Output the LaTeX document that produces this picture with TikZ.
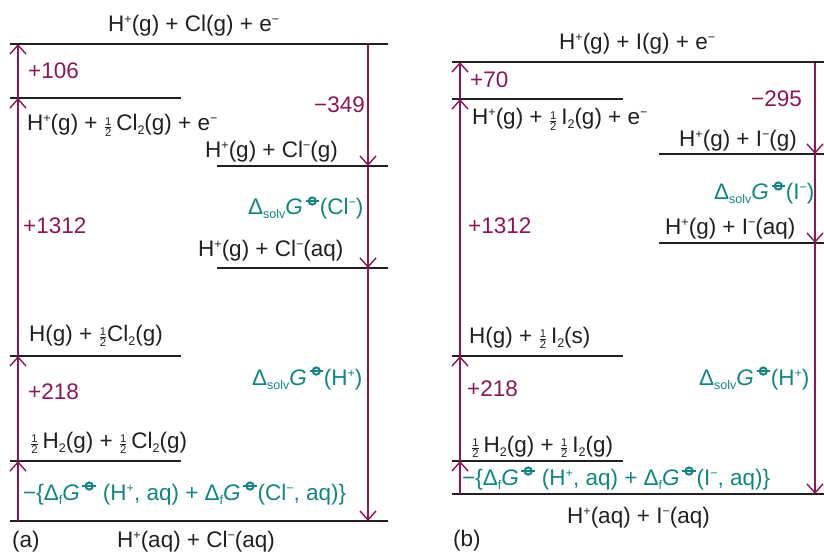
\documentclass[tikz,border=0pt]{standalone}
\usepackage{fontspec}
\setmainfont{Liberation Sans}
\usepackage{amsmath}
\usetikzlibrary{arrows.meta}
\definecolor{lvl}{RGB}{35,31,32}
\definecolor{mar}{RGB}{139,22,88}
\definecolor{tl}{RGB}{16,134,130}
\newcommand{\hf}{\ensuremath{\genfrac{}{}{0.5pt}{2}{\text{1}}{\text{2}}}}
\newcommand{\sps}[1]{\raisebox{8pt}{\fontsize{12.5}{12}\selectfont #1}}
\newcommand{\sbs}[1]{\raisebox{-4pt}{\fontsize{12.5}{12}\selectfont #1}}
\newcommand{\plim}{\tikz[baseline=0pt]{\draw[tl,line width=0.09em] (0pt,0.62em) circle[radius=0.16em]; \draw[tl,line width=0.07em] (-0.3em,0.62em) -- (0.3em,0.62em);}}
\newcommand{\GG}{\textit{G}\hspace{0.08em}\plim}
\tikzset{
  every node/.style={font=\fontsize{22.5}{26}\selectfont, inner sep=0pt, anchor=base west, text=lvl},
  level/.style={draw=lvl, line width=2.8pt},
  arr/.style={draw=mar, line width=1.4pt, -{Straight Barb[length=9pt,width=16pt]}},
  val/.style={text=mar},
  sg/.style={text=tl}
}
\begin{document}
\begin{tikzpicture}[x=1pt,y=-1pt]
\useasboundingbox (0,0) rectangle (824,553);
% ---------------- panel (a) ----------------
\draw[level] (10,44) -- (388,44);
\draw[level] (10,98) -- (181,98);
\draw[level] (217,166) -- (388,166);
\draw[level] (217,268) -- (388,268);
\draw[level] (10,356) -- (181,356);
\draw[level] (10,461) -- (181,461);
\draw[level] (10,521) -- (388,521);
\coordinate (aL1) at (18,44);
\coordinate (aL2) at (18,98);
\coordinate (aL5) at (18,356);
\coordinate (aL6) at (18,461);
\coordinate (aL7) at (18,521);
\coordinate (aR1) at (368,45);
\coordinate (aR3) at (368,166);
\coordinate (aR4) at (368,268);
\coordinate (aR7) at (368,521);
\draw[arr] (aL2) -- (aL1);
\draw[arr] (aL5) -- (aL2);
\draw[arr] (aL6) -- (aL5);
\draw[arr] (aL7) -- (aL6);
\draw[arr] (aR1) -- (aR3);
\draw[arr] (aR3) -- (aR4);
\draw[arr] (aR4) -- (aR7);
\node (a1) at (108,32) {H\sps{+}(g) + Cl(g) + e\sps{−}};
\node (a2) at (27,131) {H\sps{+}(g) + \hf\,Cl\sbs{2}(g) + e\sps{−}};
\node (a3) at (205,158) {H\sps{+}(g) + Cl\sps{−}(g)};
\node (a4) at (198,257) {H\sps{+}(g) + Cl\sps{−}(aq)};
\node (a5) at (29,341) {H(g) + \hf Cl\sbs{2}(g)};
\node (a6) at (30,448) {\hf\,H\sbs{2}(g) + \hf\,Cl\sbs{2}(g)};
\node (a7) at (117,547) {H\sps{+}(aq) + Cl\sps{−}(aq)};
\node (alab) at (12,547) {(a)};
\node[val] (av1) at (28,79) {+106};
\node[val] (av2) at (23,234) {+1312};
\node[val] (av3) at (28,399) {+218};
\node[val] (av4) at (314,113) {−349};
\node[sg] (as1) at (248,215) {Δ\sbs{solv}\GG(Cl\sps{−})};
\node[sg] (as2) at (252,385) {Δ\sbs{solv}\GG(H\sps{+})};
\node[sg] (as3) at (23,500) {−\{Δ\sbs{f}\GG\ (H\sps{+}, aq) + Δ\sbs{f}\GG(Cl\sps{−}, aq)\}};
% ---------------- panel (b) ----------------
\draw[level] (452,62) -- (824,62);
\draw[level] (452,99) -- (623,99);
\draw[level] (659,154) -- (824,154);
\draw[level] (659,243) -- (824,243);
\draw[level] (452,356) -- (623,356);
\draw[level] (452,461) -- (623,461);
\draw[level] (452,494) -- (824,494);
\coordinate (bL1) at (460,62);
\coordinate (bL2) at (460,99);
\coordinate (bL5) at (460,356);
\coordinate (bL6) at (460,461);
\coordinate (bL7) at (460,494);
\coordinate (bR1) at (815,63);
\coordinate (bR3) at (815,154);
\coordinate (bR4) at (815,243);
\coordinate (bR7) at (815,494);
\draw[arr] (bL2) -- (bL1);
\draw[arr] (bL5) -- (bL2);
\draw[arr] (bL6) -- (bL5);
\draw[arr] (bL7) -- (bL6);
\draw[arr] (bR1) -- (bR3);
\draw[arr] (bR3) -- (bR4);
\draw[arr] (bR4) -- (bR7);
\node (b1) at (559,50) {H\sps{+}(g) + I(g) + e\sps{−}};
\node (b2) at (472,125) {H\sps{+}(g) + \hf\,I\sbs{2}(g) + e\sps{−}};
\node (b3) at (679,147) {H\sps{+}(g) + I\sps{−}(g)};
\node (b4) at (665,235) {H\sps{+}(g) + I\sps{−}(aq)};
\node (b5) at (469,343) {H(g) + \hf\,I\sbs{2}(s)};
\node (b6) at (471,452) {\hf\,H\sbs{2}(g) + \hf\,I\sbs{2}(g)};
\node (b7) at (567,523) {H\sps{+}(aq) + I\sps{−}(aq)};
\node (blab) at (453,546) {(b)};
\node[val] (bv1) at (470,88) {+70};
\node[val] (bv2) at (468,234) {+1312};
\node[val] (bv3) at (467,396) {+218};
\node[val] (bv4) at (751,107) {−295};
\node[sg] (bs1) at (714,200) {Δ\sbs{solv}\GG(I\sps{−})};
\node[sg] (bs2) at (699,385) {Δ\sbs{solv}\GG(H\sps{+})};
\node[sg] (bs3) at (462,485) {−\{Δ\sbs{f}\GG\ (H\sps{+}, aq) + Δ\sbs{f}\GG(I\sps{−}, aq)\}};
\end{tikzpicture}
\end{document}
